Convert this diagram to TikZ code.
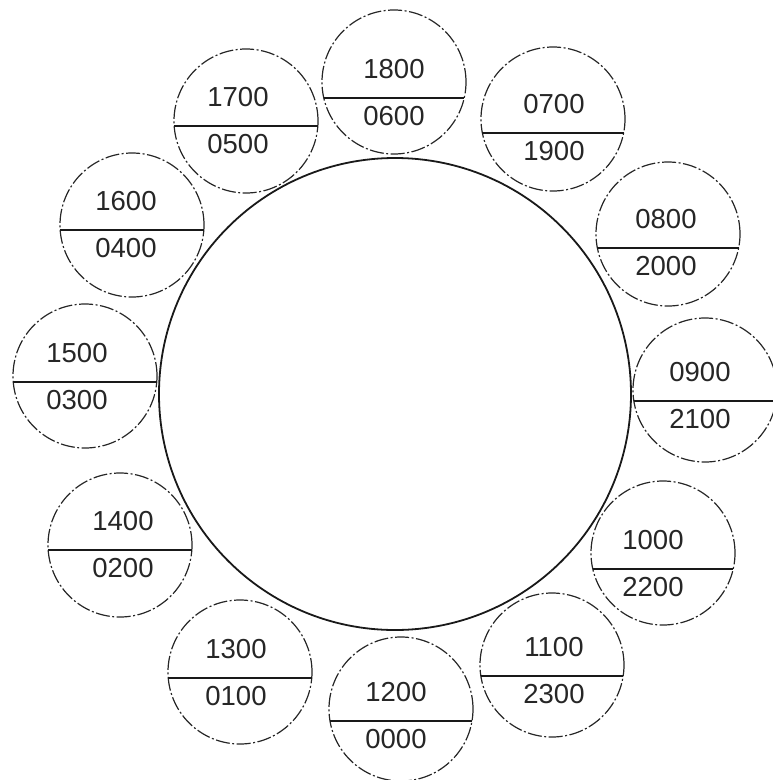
\documentclass[tikz,border=0pt]{standalone}
\usepackage{fontspec}
\setmainfont{Liberation Sans}
\usetikzlibrary{calc}
\tikzset{
  disc/.style={circle,draw=black!85,line width=1.2pt,minimum size=144pt,inner sep=0pt,outer sep=0pt,
    dash pattern=on 14pt off 2.5pt on 2pt off 2.5pt},
  chord/.style={draw=black!90,line width=2.6pt},
  num/.style={inner sep=0pt,font=\fontsize{27.5}{32}\selectfont,text=black!85},
  hub/.style={circle,draw=black!90,line width=1.8pt,minimum size=472pt,inner sep=0pt,outer sep=0pt}
}
\newcommand\hourdisc[7]{%
  \node[disc] (#1) at (#2,#3) {};
  \pgfmathsetmacro\hh{sqrt(72*72-(#4)*(#4))}
  \draw[chord] ($(#1.center)+(-\hh,#4)$) -- ($(#1.center)+(\hh,#4)$);
  \node[num] (#1t) at ($(#1.center)+(#7,#4-29)$) {#5};
  \node[num] (#1b) at ($(#1.center)+(#7,#4+18)$) {#6};
}
\begin{document}
\begin{tikzpicture}[x=1pt,y=-1pt]
\useasboundingbox (0,0) rectangle (773,780);
\node[hub] (hub) at (395,394) {};
\hourdisc{h18}{394}{82}{16}{1800}{0600}{0}
\hourdisc{h07}{553}{119}{14}{0700}{1900}{1}
\hourdisc{h08}{668}{234}{14}{0800}{2000}{-2}
\hourdisc{h09}{705}{390}{11}{0900}{2100}{-5}
\hourdisc{h10}{663}{553}{16}{1000}{2200}{-10}
\hourdisc{h11}{552}{665}{11}{1100}{2300}{2}
\hourdisc{h12}{401}{709}{12}{1200}{0000}{-5}
\hourdisc{h13}{240}{672}{6}{1300}{0100}{-4}
\hourdisc{h14}{120}{545}{5}{1400}{0200}{3}
\hourdisc{h15}{85}{376}{6}{1500}{0300}{-8}
\hourdisc{h16}{132}{225}{5}{1600}{0400}{-6}
\hourdisc{h17}{246}{121}{5}{1700}{0500}{-8}
\end{tikzpicture}
\end{document}
